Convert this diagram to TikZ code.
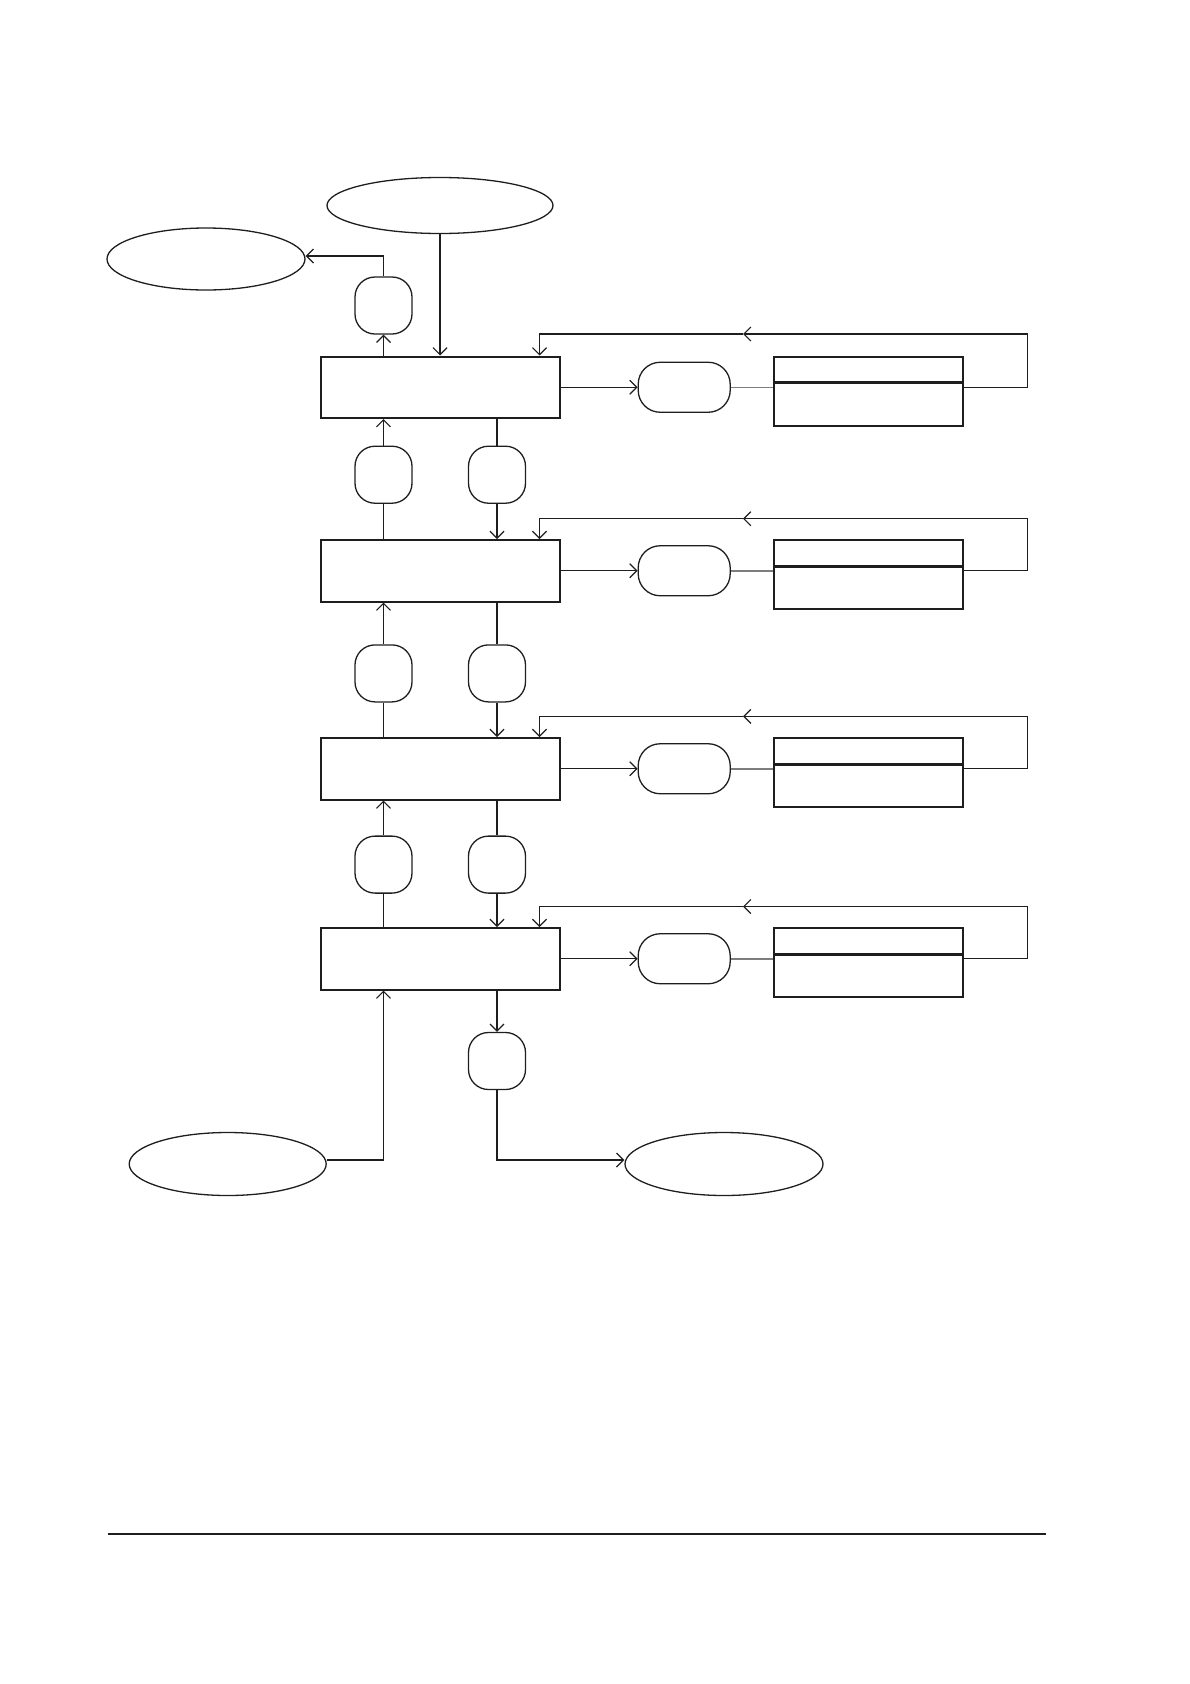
\documentclass[tikz,border=0pt]{standalone}
\usetikzlibrary{shapes.geometric,arrows.meta}
\begin{document}
\begin{tikzpicture}[x=1pt, y=-1pt, >={Straight Barb[length=7pt,width=14pt]}]
        \definecolor{ink}{RGB}{30,30,30}
        \definecolor{linkgray}{RGB}{125,125,125}
        \tikzset{
            conn/.style={draw=ink, line width=1.2pt},
            link/.style={draw=linkgray, line width=1.5pt},
            proc/.style={draw=ink, line width=2pt, minimum width=239pt, minimum height=61.5pt, inner sep=0pt},
            store/.style={draw=ink, line width=2pt, minimum width=189pt, minimum height=69pt, inner sep=0pt},
            flow/.style={draw=ink, line width=1.3pt, rounded corners=20pt, minimum width=57pt, minimum height=57pt, inner sep=0pt},
            port/.style={draw=ink, line width=1.3pt, rounded corners=22pt, minimum width=92pt, minimum height=50pt, inner sep=0pt},
            ext/.style={draw=ink, line width=1.3pt, ellipse, inner sep=0pt},
            split/.style={draw=ink, line width=3pt}
        }
        \useasboundingbox (0,0) rectangle (1190,1684);
        \node[ext, minimum width=226pt, minimum height=56pt] (src) at (440,205.5) {};
        \node[ext, minimum width=198pt, minimum height=62pt] (out) at (206,259) {};
        \node[flow] (f0) at (383.5,305.5) {};
        \node[proc] (p1) at (440.5,387.25) {};
        \node[port] (q1) at (684.2,387.25) {};
        \node[store] (s1) at (868.3,391) {};
        \node[flow] (fa1) at (383.5,474.7) {};
        \node[flow] (fb1) at (497,474.7) {};
        \node[proc] (p2) at (440.5,570.75) {};
        \node[port] (q2) at (684.2,570.75) {};
        \node[store] (s2) at (868.3,574.5) {};
        \node[flow] (fa2) at (383.5,673.4) {};
        \node[flow] (fb2) at (497,673.4) {};
        \node[proc] (p3) at (440.5,768.75) {};
        \node[port] (q3) at (684.2,768.75) {};
        \node[store] (s3) at (868.3,772.5) {};
        \node[flow] (fa3) at (383.5,864.6) {};
        \node[flow] (fb3) at (497,864.6) {};
        \node[proc] (p4) at (440.5,958.75) {};
        \node[port] (q4) at (684.2,958.75) {};
        \node[store] (s4) at (868.3,962.5) {};
        \node[flow] (fb4) at (497,1061) {};
        \node[ext, minimum width=197pt, minimum height=63pt] (inp) at (227.7,1164) {};
        \node[ext, minimum width=198pt, minimum height=63pt] (dst) at (724,1164) {};
        \draw[split] ([yshift=-27.3pt]s1.north west) -- ([yshift=-27.3pt]s1.north east);
        \draw[split] ([yshift=-27.3pt]s2.north west) -- ([yshift=-27.3pt]s2.north east);
        \draw[split] ([yshift=-27.3pt]s3.north west) -- ([yshift=-27.3pt]s3.north east);
        \draw[split] ([yshift=-27.3pt]s4.north west) -- ([yshift=-27.3pt]s4.north east);
        \coordinate (r1) at (1027.8,334);
        \coordinate (m1) at (743,334);
        \coordinate (e1) at (539.5,334);
        \coordinate (r2) at (1027.8,518.7);
        \coordinate (m2) at (743,518.7);
        \coordinate (e2) at (539.5,518.7);
        \coordinate (r3) at (1027.8,716.4);
        \coordinate (m3) at (743,716.4);
        \coordinate (e3) at (539.5,716.4);
        \coordinate (r4) at (1027.8,906.5);
        \coordinate (m4) at (743,906.5);
        \coordinate (e4) at (539.5,906.5);
        \draw[conn,->] (src.south) -- (src.south |- p1.north);
        \draw[conn,->] (f0 |- p1.north) -- (f0.south);
        \draw[conn,->] (f0.north) |- ([yshift=3pt]out.east);
        \draw[conn,->] (p1.east) -- (q1.west);
        \draw[link] (q1.east) -- (s1.west |- q1.east);
        \draw[conn,->] (s1.east |- q1.east) -| (r1) -- (m1);
        \draw[conn,->] (m1) -- (e1) -- (e1 |- p1.north);
        \draw[conn] (fa1 |- p2.north) -- (fa1.south);
        \draw[conn,->] (fa1.north) -- (fa1 |- p1.south);
        \draw[conn] (fb1 |- p1.south) -- (fb1.north);
        \draw[conn,->] (fb1.south) -- (fb1 |- p2.north);
        \draw[conn,->] (p2.east) -- (q2.west);
        \draw[link] (q2.east) -- (s2.west |- q2.east);
        \draw[conn,->] (s2.east |- q2.east) -| (r2) -- (m2);
        \draw[conn,->] (m2) -- (e2) -- (e2 |- p2.north);
        \draw[conn] (fa2 |- p3.north) -- (fa2.south);
        \draw[conn,->] (fa2.north) -- (fa2 |- p2.south);
        \draw[conn] (fb2 |- p2.south) -- (fb2.north);
        \draw[conn,->] (fb2.south) -- (fb2 |- p3.north);
        \draw[conn,->] (p3.east) -- (q3.west);
        \draw[link] (q3.east) -- (s3.west |- q3.east);
        \draw[conn,->] (s3.east |- q3.east) -| (r3) -- (m3);
        \draw[conn,->] (m3) -- (e3) -- (e3 |- p3.north);
        \draw[conn] (fa3 |- p4.north) -- (fa3.south);
        \draw[conn,->] (fa3.north) -- (fa3 |- p3.south);
        \draw[conn] (fb3 |- p3.south) -- (fb3.north);
        \draw[conn,->] (fb3.south) -- (fb3 |- p4.north);
        \draw[conn,->] (p4.east) -- (q4.west);
        \draw[link] (q4.east) -- (s4.west |- q4.east);
        \draw[conn,->] (s4.east |- q4.east) -| (r4) -- (m4);
        \draw[conn,->] (m4) -- (e4) -- (e4 |- p4.north);
        \draw[conn,->] ([yshift=4pt]inp.east) -| (fa3 |- p4.south);
        \draw[conn,->] (fb4 |- p4.south) -- (fb4.north);
        \draw[conn,->] (fb4.south) |- ([yshift=4pt]dst.west);
        \draw[ink, line width=2pt] (107.5,1533.7) -- (1046,1533.7);
    \end{tikzpicture}
\end{document}
